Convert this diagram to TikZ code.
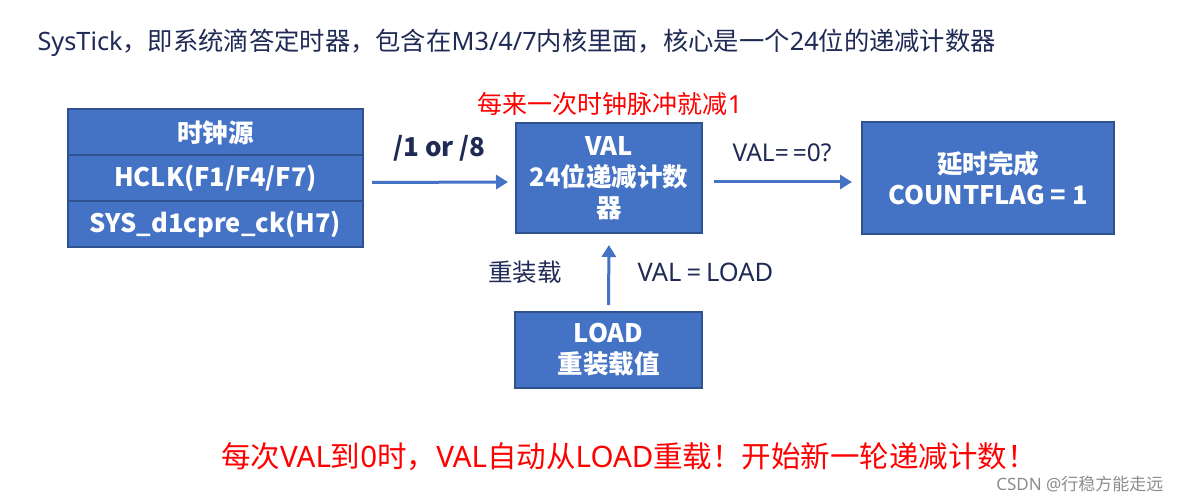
\documentclass[tikz,border=0pt]{standalone}
\usepackage{fontspec}
\setmainfont{Noto Sans}
\newfontfamily\zhfont{Noto Sans CJK SC}
\newcommand\zh[1]{{\zhfont #1}}
\usetikzlibrary{arrows.meta, positioning}
\definecolor{boxblue}{HTML}{4472C4}
\definecolor{boxline}{HTML}{2F528F}
\definecolor{inknavy}{HTML}{1F2A55}
\definecolor{markred}{HTML}{FF0000}
\definecolor{markgray}{HTML}{8C8C8C}

\tikzset{
  blockbox/.style={draw=boxline, fill=boxblue, line width=2pt, outer sep=0pt, inner sep=0pt,
    text=white, align=center, font=\zhfont\fontsize{25.5}{31}\selectfont\bfseries},
  flowarrow/.style={draw=boxblue, line width=3pt, -{Triangle[length=12pt, width=14pt]}},
  note/.style={text=inknavy, font=\fontsize{24.5}{28}\selectfont}
}

\begin{document}
\begin{tikzpicture}[x=1pt, y=-1pt]
\useasboundingbox (0,0) rectangle (1182,502);
\node[note, anchor=west, font=\fontsize{25.3}{28}\selectfont] (title) at (34,43) {SysTick\zh{，即系统滴答定时器，包含在}M3/4/7\zh{内核里面，核心是一个}24\zh{位的递减计数器}};

\node[blockbox, minimum width=295pt, minimum height=46pt] (src) at (215.5,132.5) {时钟源};
\node[blockbox, minimum width=295pt, minimum height=46pt, below=0pt of src] (hclk) {HCLK(F1/F4/F7)};
\node[blockbox, minimum width=295pt, minimum height=46pt, below=0pt of hclk] (sysck) {SYS\_d1cpre\_ck(H7)};

\node[blockbox, minimum width=186pt, minimum height=110pt] (val) at (609,178) {VAL\\24位递减计数\\器};
\node[blockbox, minimum width=252pt, minimum height=112pt] (done) at (988,178) {延时完成\\COUNTFLAG = 1};
\node[blockbox, minimum width=187pt, minimum height=76pt] (load) at (608.5,350) {LOAD\\重装载值};

\node[text=markred, font=\fontsize{25}{28}\selectfont] (tick) at (610,104) {\zh{每来一次时钟脉冲就减}1};

\draw[flowarrow, shorten <=9pt, shorten >=8pt] ([yshift=-4pt]hclk.east) -- node[note, above=16pt, font=\zhfont\fontsize{26}{28}\selectfont\bfseries] (div) {/1 or /8} ([yshift=-4pt]val.west);
\draw[flowarrow, shorten <=12pt, shorten >=10pt] ([yshift=-4pt]val.east) -- node[note, above=15pt] (zero) {VAL=\,=0?} ([yshift=-4pt]done.west);
\draw[flowarrow, shorten <=7pt, shorten >=12pt] (load.north) -- node[note, left=42pt] (reload) {\zh{重装载}} node[note, right=24pt, font=\fontsize{25.5}{28}\selectfont] (assign) {VAL\hspace{5pt}=\hspace{5pt}LOAD} (val.south);

\node[text=markred, font=\fontsize{29.5}{32}\selectfont] (rule) at (629,457) {\zh{每次}VAL\zh{到}0\zh{时，}VAL\zh{自动从}LOAD\zh{重载！开始新一轮递减计数！}};
\node[text=markgray, font=\fontsize{17}{20}\selectfont, anchor=east] (mark) at (1167,484) {CSDN @\zh{行稳方能走远}};
\end{tikzpicture}
\end{document}
